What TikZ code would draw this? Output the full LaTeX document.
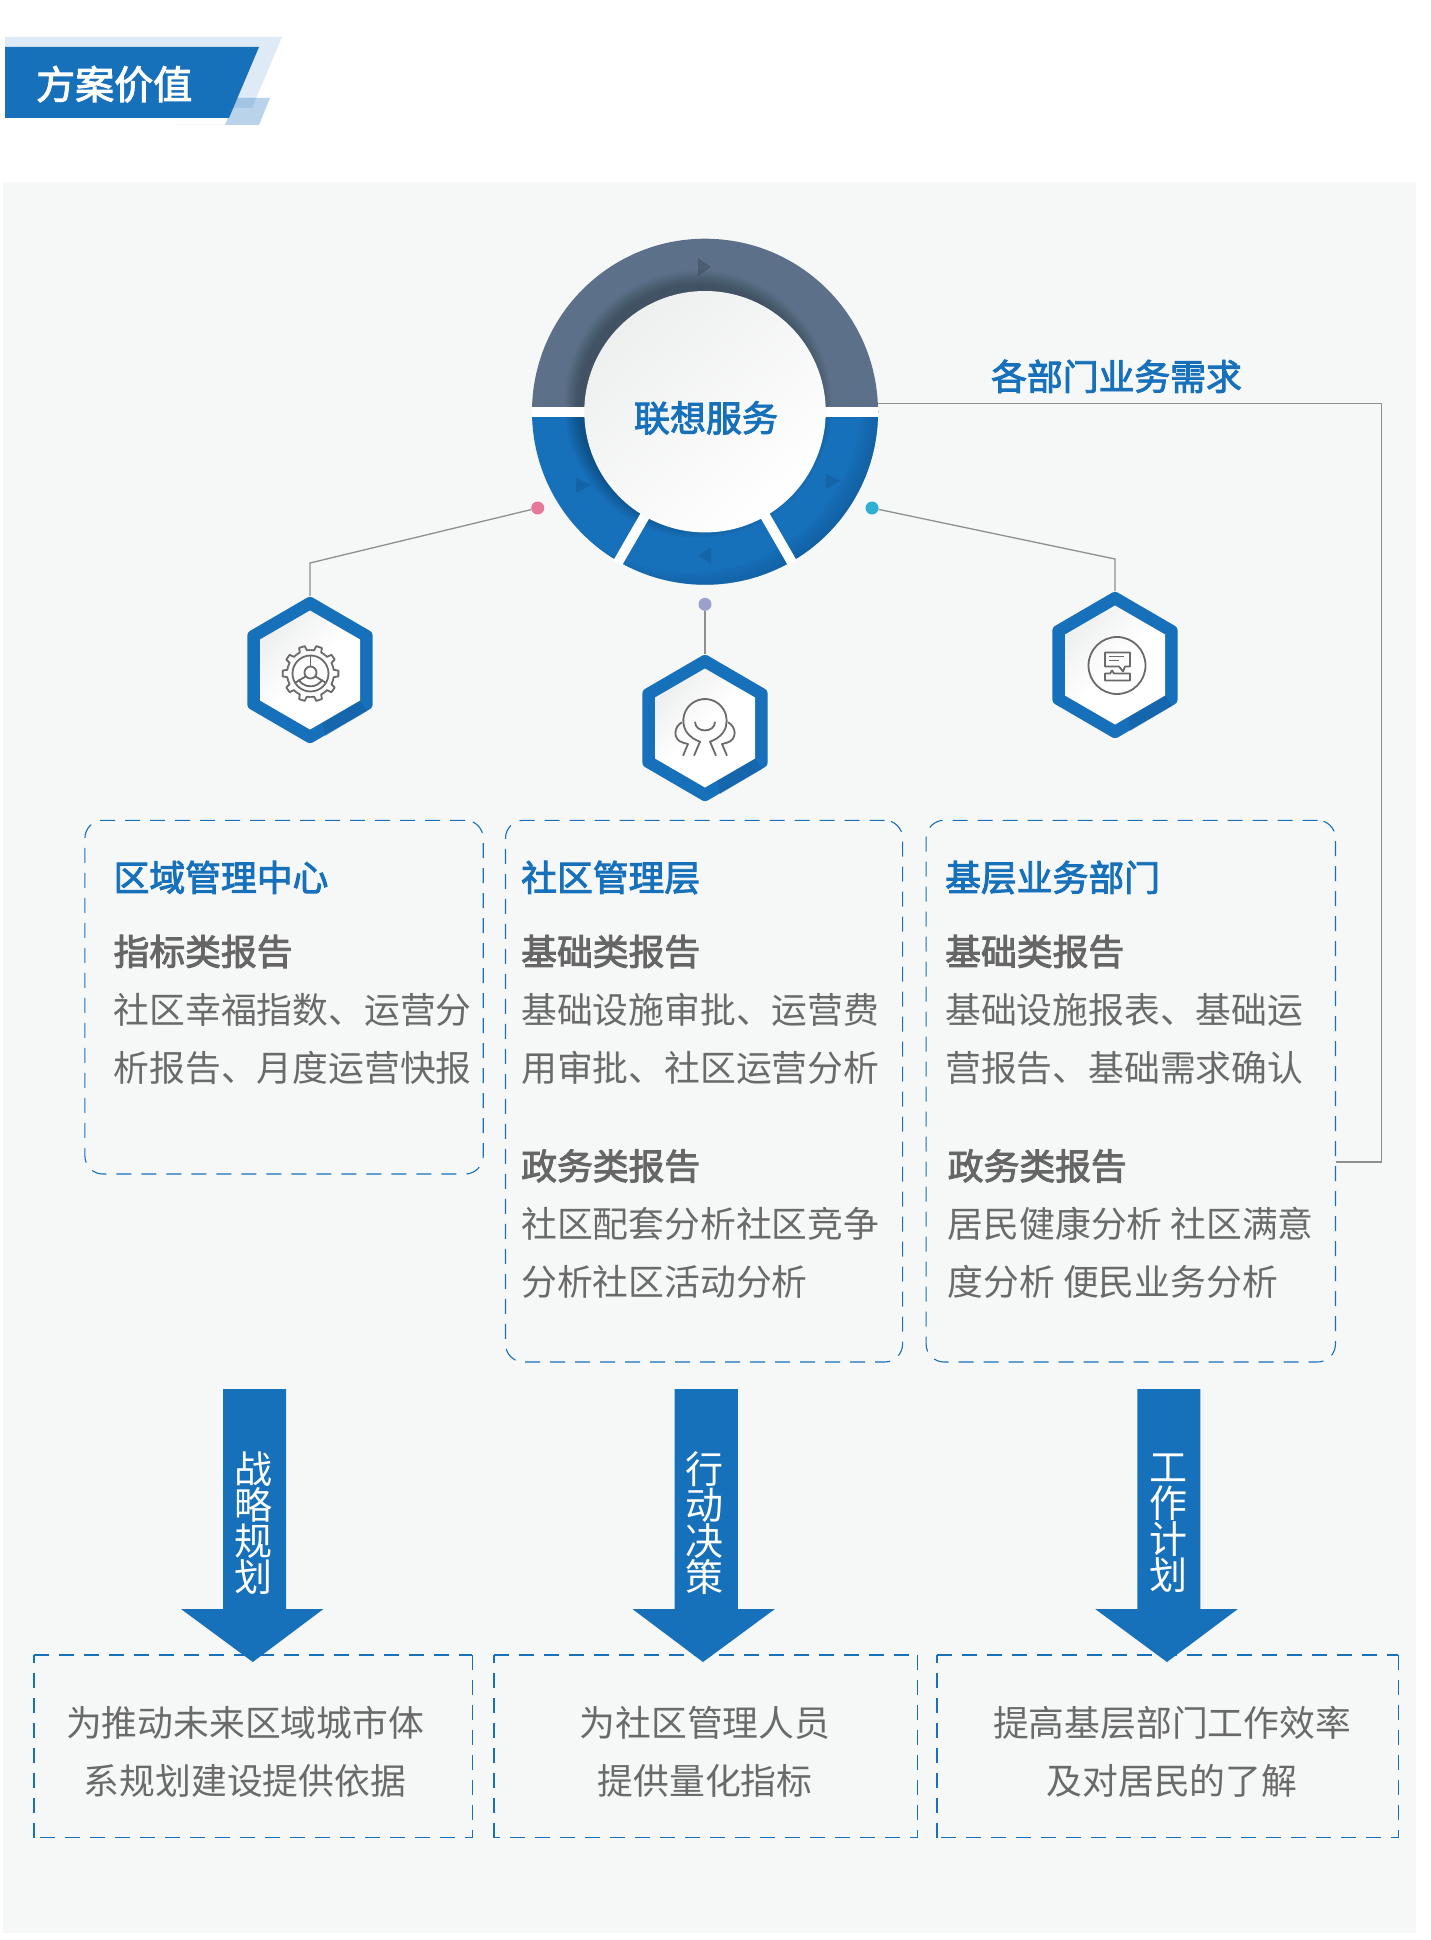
\documentclass[tikz,border=0pt]{standalone}
\usepackage{fontspec}
\setmainfont{Noto Sans CJK SC}
\newfontfamily\cjkmed[FakeBold=2.6]{Noto Sans CJK SC}
\usetikzlibrary{shapes.geometric}
\definecolor{cblue}{HTML}{1770BA}
\definecolor{cdeep}{HTML}{135C9C}
\definecolor{cslate}{HTML}{5C7189}
\definecolor{cpanel}{HTML}{F6F8F8}
\definecolor{ctext}{HTML}{6A6A6A}
\definecolor{chead}{HTML}{666666}
\definecolor{cline}{HTML}{8F8F8F}
\definecolor{cglow}{HTML}{EEEFEF}
\definecolor{cpink}{HTML}{E8789A}
\definecolor{ccyan}{HTML}{2FB0D3}
\definecolor{clav}{HTML}{9AA2CC}
\tikzset{
  txt/.style={anchor=base west,inner sep=0pt,text=ctext,font=\fontsize{35.8}{36}\selectfont},
  ctr/.style={anchor=base,inner sep=0pt,text=ctext,font=\fontsize{35.8}{36}\selectfont},
  subhead/.style={txt,text=chead,font=\fontsize{35.8}{36}\cjkmed},
  bluehead/.style={txt,text=cblue,font=\fontsize{35.8}{36}\cjkmed},
  conn/.style={draw=cline,line width=1.3pt},
  dot/.style={circle,inner sep=0pt,minimum size=13pt},
  softbox/.style={draw=cblue,line width=1.1pt,rounded corners=18pt,dash pattern=on 15pt off 10pt,inner sep=0pt},
  sidebox/.style={inner sep=0pt},
  thindash/.style={draw=cblue,line width=1.1pt,dash pattern=on 15pt off 10pt},
  strongdash/.style={draw=cblue,line width=2.2pt,dash pattern=on 15pt off 10pt},
  downarrow/.style={fill=cblue},
  vert/.style={inner sep=0pt,align=center,text=white,font=\fontsize{38}{36}\selectfont},
  icon/.style={draw=ctext,line width=1.8pt,line join=round},
}
\newcommand{\hexbadge}[2]{%
  \fill[cblue,rounded corners=3pt] (#1,#2-74) -- (#1+62.7,#2-37.5) -- (#1+62.7,#2+37.5) -- (#1,#2+74) -- (#1-62.7,#2+37.5) -- (#1-62.7,#2-37.5) -- cycle;
  \fill[cdeep,opacity=0.45] (#1+13,#2+53) -- (#1+50,#2+30.5) -- (#1+57,#2+41) -- (#1+15,#2+66) -- cycle;
  \shade[top color=cglow,bottom color=white,middle color=white,shading angle=45] (#1,#2-59.5) -- (#1+50,#2-30.5) -- (#1+50,#2+30.5) -- (#1,#2+59.5) -- (#1-50,#2+30.5) -- (#1-50,#2-30.5) -- cycle;
}
\begin{document}
\begin{tikzpicture}[x=1pt,y=-1pt]
\useasboundingbox (0,0) rectangle (1431,1940);
\fill[white] (0,0) rectangle (1431,1940);
% panel
\fill[cpanel] (3,182) rectangle (1416,1933);
% header
\fill[cblue,opacity=0.14] (5,37) -- (282,37) -- (252,108) -- (5,108) -- cycle;
\fill[cblue,opacity=0.3] (178,125) -- (259,125) -- (270,98) -- (236,98) -- (225,125) -- cycle;
\fill[cblue] (5,47) -- (259,47) -- (229,118) -- (5,118) -- cycle;
\node[anchor=base west,inner sep=0pt,text=white,font=\fontsize{39}{39}\cjkmed] (title) at (36,99) {方案价值};
% feedback (starts under the ring edge)
\coordinate (fbA) at (875,403.5);
\coordinate (fbB) at (1381.5,403.5);
\coordinate (fbC) at (1381.5,1162);
\coordinate (fbD) at (1335.5,1162);
\draw[conn] (fbA) -- (fbB) -- (fbC) -- (fbD);
% ring
\node[circle,inner sep=0pt,minimum size=346pt] (ring) at (705,411.7) {};
\begin{scope}
  \clip (500,200) rectangle (910,411.7);
  \fill[cslate] (ring.center) circle[radius=173pt];
\end{scope}
\begin{scope}
  \clip (500,411.7) rectangle (910,620);
  \fill[cblue] (ring.center) circle[radius=173pt];
  \clip (ring.center) circle[radius=173pt];
  \foreach \r in {172,175,...,190} {
    \fill[cdeep,opacity=0.14,even odd rule] (ring.center) circle[radius=200pt] (690,401) circle[radius=\r pt];
  }
\end{scope}
\fill[cslate!82!black] (698,258) -- (711,267) -- (698,276) -- cycle;
\fill[cdeep,opacity=0.6] (576,478) -- (591,485) -- (576,493) -- cycle;
\fill[cdeep,opacity=0.6] (826,474) -- (840,481) -- (826,489) -- cycle;
\fill[cdeep,opacity=0.6] (711,547) -- (699,555.5) -- (711,564) -- cycle;
% inner shadow
\begin{scope}
  \clip (ring.center) circle[radius=173pt];
  \foreach \r in {0,1.5,...,13.5} {
    \fill[black,opacity=0.028] (698,404) circle[radius={120pt+\r pt}];
  }
\end{scope}
% separators
\fill[white] (532,406.7) rectangle (878,416.7);
\draw[white,line width=10pt] (ring.center) ++(-120:110pt) -- ++(-120:65pt);
\draw[white,line width=10pt] (ring.center) ++(-60:110pt) -- ++(-60:65pt);
\shade[top color=cglow,middle color=white,bottom color=white,shading angle=40] (ring.center) circle[radius=120.7pt];
\node[anchor=base,inner sep=0pt,text=cblue,font=\fontsize{36}{36}\cjkmed] (center) at (706,431.5) {联想服务};
% dots
\node[dot,fill=cpink] (dotL) at (537.7,508) {};
\node[dot,fill=ccyan] (dotR) at (872,508) {};
\node[dot,fill=clav] (dotM) at (705,604.3) {};
% hexagons
\hexbadge{310}{670}
\hexbadge{705}{728}
\hexbadge{1115}{665}
\coordinate (hexL) at (310,596);
\coordinate (hexM) at (705,654);
\coordinate (hexR) at (1115,591);
\coordinate (kneeL) at (310,563);
\coordinate (kneeR) at (1115,559);
\draw[conn] (dotL) -- (kneeL) -- (hexL);
\draw[conn] (dotR) -- (kneeR) -- (hexR);
\draw[conn] (dotM) -- (hexM);
\node[bluehead] (need) at (991,390) {各部门业务需求};
% gear icon
\begin{scope}[shift={(310.5,673.5)}]
  \foreach \a in {0,36,...,324} {
    \draw[icon] (\a-18:23.5pt) -- (\a-9:23.5pt) -- (\a-6:28pt) -- (\a+6:28pt) -- (\a+9:23.5pt) -- (\a+18:23.5pt);
  }
  \draw[icon] (0,0) circle[radius=18pt];
  \draw[icon] (0,-1) circle[radius=6pt];
  \draw[icon] (0,-7) -- (0,-18);
  \draw[icon] (-5,3) -- (-15,9);
  \draw[icon] (5,3) -- (15,9);
  \draw[icon] (-12,6) arc[start angle=210,end angle=330,radius=13.8pt];
\end{scope}
% person icon
\begin{scope}[shift={(705,717.3)}]
  \draw[icon] (-18.8,14.25) arc[start angle=210,end angle=-30,radius=21.7pt];
  \draw[icon] (-18.8,14.25) .. controls (-15,20) and (-9,23) .. (-5,24.4) -- (-11,38.4);
  \draw[icon] (18.8,14.25) .. controls (15,20) and (9,23) .. (5,24.4) -- (11,38.4);
  \draw[icon] (-10,4.4) .. controls (-10,16) and (10,16) .. (10,4.4);
  \draw[icon] (-23,5) .. controls (-31,9) and (-33,22) .. (-22,25.4) -- (-17,26.7) -- (-22,38.4);
  \draw[icon] (23,5) .. controls (31,9) and (33,22) .. (22,25.4) -- (17,26.7) -- (22,38.4);
\end{scope}
% report icon
\begin{scope}[shift={(1117,665.5)}]
  \draw[icon] (0,0) circle[radius=28.5pt];
  \draw[icon] (-12,-13) -- (13,-13) -- (13,1) -- (8,1) -- (6,6) -- (2,1) -- (-12,1) -- cycle;
  \draw[icon] (-8,-9) -- (7,-9);
  \draw[icon] (-8,-5) -- (2,-5);
  \draw[icon] (-12,8) -- (-7,8) -- (-5,5) -- (-3,8) -- (13,8) -- (13,15) -- (-12,15) -- cycle;
\end{scope}
% report boxes
\node[softbox,minimum width=398.3pt,minimum height=353.7pt] (boxA) at (284.05,997.15) {};
\node[softbox,minimum width=397.1pt,minimum height=541.7pt] (boxB) at (704.05,1091.15) {};
\node[softbox,minimum width=409.4pt,minimum height=541.7pt] (boxC) at (1130.8,1091.15) {};
% box A
\node[bluehead] (a1) at (113.4,891) {区域管理中心};
\node[subhead] (a2) at (113.4,965) {指标类报告};
\node[txt] (a3) at (113.4,1023) {社区幸福指数、运营分};
\node[txt] (a4) at (113.4,1081) {析报告、月度运营快报};
% box B
\node[bluehead] (b1) at (521,891) {社区管理层};
\node[subhead] (b2) at (521,965) {基础类报告};
\node[txt] (b3) at (521,1023) {基础设施审批、运营费};
\node[txt] (b4) at (521,1081) {用审批、社区运营分析};
\node[subhead] (b5) at (521,1179.5) {政务类报告};
\node[txt] (b6) at (521,1237) {社区配套分析社区竞争};
\node[txt] (b7) at (521,1295) {分析社区活动分析};
% box C
\node[bluehead] (c1) at (945,891) {基层业务部门};
\node[subhead] (c2) at (945,965) {基础类报告};
\node[txt] (c3) at (945,1023) {基础设施报表、基础运};
\node[txt] (c4) at (945,1081) {营报告、基础需求确认};
\node[subhead] (c5) at (947.6,1179.5) {政务类报告};
\node[txt] (c6) at (947.6,1237) {居民健康分析 社区满意};
\node[txt] (c7) at (947.6,1295) {度分析 便民业务分析};
% bottom boxes
\node[sidebox,minimum width=437.9pt,minimum height=182.3pt] (outA) at (253.15,1746.15) {};
\node[sidebox,minimum width=423pt,minimum height=182.3pt] (outB) at (705.9,1746.15) {};
\node[sidebox,minimum width=460.9pt,minimum height=182.3pt] (outC) at (1167.65,1746.15) {};
\foreach \n in {outA,outB,outC} {
  \draw[thindash] (\n.north east) -- (\n.south east) -- (\n.south west);
  \draw[strongdash,line width=1.6pt] (\n.south west) -- (\n.north west);
  \draw[strongdash] (\n.north west) -- (\n.north east);
}
% arrows
\fill[downarrow] (223,1389) -- (286,1389) -- (286,1609) -- (323.4,1609) -- (252.8,1662) -- (181,1609) -- (223,1609) -- cycle;
\fill[downarrow] (674.6,1389) -- (737.8,1389) -- (737.8,1609) -- (774.9,1609) -- (703,1662) -- (632.4,1609) -- (674.6,1609) -- cycle;
\fill[downarrow] (1137.3,1389) -- (1200.4,1389) -- (1200.4,1609) -- (1237.8,1609) -- (1167,1662) -- (1095.2,1609) -- (1137.3,1609) -- cycle;
\node[vert] (v1) at (253,1523) {战\\略\\规\\划};
\node[vert] (v2) at (704.5,1523) {行\\动\\决\\策};
\node[vert] (v3) at (1168.4,1523) {工\\作\\计\\划};
% bottom texts
\node[ctr] (d1) at (245,1736.5) {为推动未来区域城市体};
\node[ctr] (d2) at (245,1794.5) {系规划建设提供依据};
\node[ctr] (e1) at (705,1736.5) {为社区管理人员};
\node[ctr] (e2) at (705,1794.5) {提供量化指标};
\node[ctr] (f1) at (1172,1736.5) {提高基层部门工作效率};
\node[ctr] (f2) at (1172,1794.5) {及对居民的了解};
\end{tikzpicture}
\end{document}
